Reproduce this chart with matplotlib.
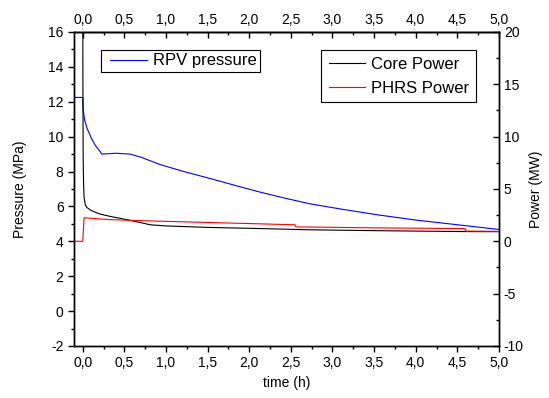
"""RPV pressure with core and PHRS power versus time."""

import matplotlib

matplotlib.use("Agg")
import matplotlib.pyplot as plt
from matplotlib.legend_handler import HandlerLine2D
from matplotlib.lines import Line2D
from matplotlib.ticker import FuncFormatter, MultipleLocator

plt.rcParams["font.family"] = ["Liberation Sans", "DejaVu Sans"]
plt.rcParams["axes.unicode_minus"] = False

# RPV pressure (MPa) vs time (h)
rpv_time = [-0.1, 0.0, 0.005, 0.02, 0.05, 0.1, 0.15, 0.2, 0.23, 0.33, 0.4, 0.57,
            0.7, 0.93, 1.2, 1.53, 1.85, 2.13, 2.45, 2.73, 3.1, 3.57, 4.0, 4.5, 5.0]
rpv_pressure = [12.25, 12.25, 11.6, 11.0, 10.5, 9.95, 9.5, 9.2, 9.0, 9.03, 9.05, 9.0,
                8.82, 8.4, 8.02, 7.6, 7.18, 6.82, 6.45, 6.15, 5.85, 5.5, 5.22, 4.95, 4.68]

# Core power (MW) vs time (h)
core_time = [-0.1, 0.0, 0.002, 0.005, 0.01, 0.016, 0.03, 0.05, 0.1, 0.2, 0.33, 0.5,
             0.7, 0.81, 1.0, 1.5, 2.13, 2.73, 3.5, 4.6, 5.0]
core_power = [30.0, 30.0, 15.0, 8.0, 5.5, 4.2, 3.5, 3.23, 2.95, 2.62, 2.38, 2.12,
              1.78, 1.58, 1.47, 1.33, 1.22, 1.1, 1.02, 0.93, 0.92]

# PHRS power (MW) vs time (h)
phrs_time = [-0.1, 0.0, 0.016, 0.33, 0.8, 1.89, 2.55, 2.56, 3.57, 4.59, 4.6, 5.0]
phrs_power = [0.0, 0.0, 2.25, 2.07, 1.95, 1.72, 1.58, 1.38, 1.28, 1.22, 0.98, 0.95]


def comma(value, pos):
    return f"{value:.1f}".replace(".", ",")


fig = plt.figure(figsize=(5.49, 3.98), dpi=100)
ax = fig.add_axes([0.1348, 0.1307, 0.7741, 0.7889])
ax2 = ax.twinx()

ax.plot(rpv_time, rpv_pressure, color="#0000ff", lw=0.8, label="RPV pressure")
ax2.plot(core_time, core_power, color="black", lw=0.8, label="Core Power")
ax2.plot(phrs_time, phrs_power, color="#ff0000", lw=0.8, label="PHRS Power")

ax.set_xlim(-0.105, 5.0)
ax.set_ylim(-2, 16)
ax2.set_ylim(-10, 20)

ax.xaxis.set_major_locator(MultipleLocator(0.5))
ax.xaxis.set_minor_locator(MultipleLocator(0.25))
ax.xaxis.set_major_formatter(FuncFormatter(comma))
ax.yaxis.set_major_locator(MultipleLocator(2))
ax.yaxis.set_minor_locator(MultipleLocator(1))
ax2.yaxis.set_major_locator(MultipleLocator(5))
ax2.yaxis.set_minor_locator(MultipleLocator(2.5))

ax.tick_params(which="major", direction="out", length=4, width=1, labelsize=10)
ax.tick_params(which="minor", direction="out", length=2.5, width=1)
ax2.tick_params(which="major", direction="in", length=4, width=1, labelsize=10)
ax2.tick_params(which="minor", direction="in", length=2.5, width=1)

top = ax.secondary_xaxis("top")
top.xaxis.set_major_locator(MultipleLocator(0.5))
top.xaxis.set_minor_locator(MultipleLocator(0.25))
top.xaxis.set_major_formatter(FuncFormatter(comma))
top.tick_params(which="major", direction="in", length=4, width=1, labelsize=10)
top.tick_params(which="minor", direction="in", length=2.5, width=1)

for a in (ax, ax2):
    for s in a.spines.values():
        s.set_linewidth(1.0)
top.spines["top"].set_linewidth(1.0)

ax.set_xlabel("time (h)", fontsize=10, labelpad=4)
ax.set_ylabel("Pressure (MPa)", fontsize=10, labelpad=15)
ax2.set_ylabel("Power (MW)", fontsize=10, labelpad=4)

common = dict(
    loc="upper left", fontsize=12, frameon=True, fancybox=False, edgecolor="black",
    framealpha=1, borderaxespad=0, numpoints=2, bbox_transform=fig.transFigure,
)
leg1 = ax.legend(
    bbox_to_anchor=(0.184, 0.874), borderpad=0.2, handlelength=2.9, handletextpad=0.0,
    handler_map={Line2D: HandlerLine2D(marker_pad=0.34)}, **common,
)
leg1.get_frame().set_linewidth(0.8)
leg2 = ax2.legend(
    bbox_to_anchor=(0.584, 0.874), borderpad=0.41, handlelength=2.36, handletextpad=0.23,
    labelspacing=0.52, handler_map={Line2D: HandlerLine2D(marker_pad=0.11)}, **common,
)
leg2.get_frame().set_linewidth(0.8)

fig.savefig("out.png", dpi=100)
